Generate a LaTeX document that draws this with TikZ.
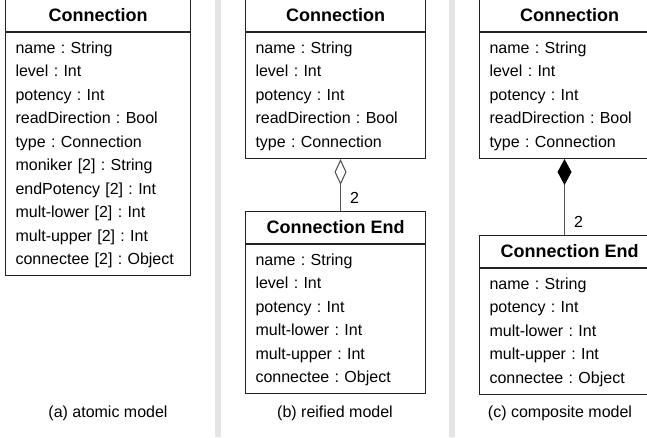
\documentclass[tikz,border=0pt]{standalone}
\usepackage{fontspec}
\setmainfont{Liberation Sans}
\usetikzlibrary{arrows.meta, positioning}
\definecolor{framecolor}{RGB}{34,34,34}
\definecolor{barcolor}{RGB}{228,228,228}
\definecolor{linkcolor}{RGB}{85,85,85}
\frenchspacing

\begin{document}
\begin{tikzpicture}[
    x=0.75pt, y=-0.75pt,
    head/.style={draw=framecolor, line width=0.8pt, anchor=north west, minimum width=#1, minimum height=24pt, inner sep=0pt, font=\fontsize{13.5pt}{16pt}\selectfont\bfseries},
    body/.style={draw=framecolor, line width=0.8pt, align=left, text width=#1, inner xsep=7.5pt, inner ysep=3.2pt, font=\fontsize{12pt}{17.6pt}\selectfont, execute at begin node=\strut, execute at end node=\strut},
    aggr/.style={draw=linkcolor, line width=0.8pt, -{Diamond[open, length=19.5pt, width=9pt]}},
    comp/.style={draw=linkcolor, line width=0.8pt, -{Diamond[length=19.5pt, width=10.5pt, color=black]}},
    mult/.style={anchor=base west, inner sep=0pt, xshift=6.75pt, yshift=6pt, font=\fontsize{12pt}{14pt}\selectfont},
    caption/.style={font=\fontsize{12pt}{14pt}\selectfont}
]
    \useasboundingbox (0,0) rectangle (647,437);

    % Panel separators
    \fill[barcolor] (215,0) rectangle (221,437);
    \fill[barcolor] (449,0) rectangle (455,437);

    % (a) one class holds everything
    \node[head=138.75pt] (connA-head) at (5,-1) {Connection};
    \node[body=123.75pt, below=0pt of connA-head] (connA-body) {name : String\\ level : Int\\ potency : Int\\ readDirection : Bool\\ type : Connection\\ moniker [2] : String\\ endPotency [2] : Int\\ mult-lower [2] : Int\\ mult-upper [2] : Int\\ connectee [2] : Object};

    % (b) ends as separate classes
    \node[head=135pt] (connB-head) at (245,-1) {Connection};
    \node[body=120pt, below=0pt of connB-head] (connB-body) {name : String\\ level : Int\\ potency : Int\\ readDirection : Bool\\ type : Connection};
    \node[head=135pt] (endB-head) at (245,211) {Connection End};
    \node[body=120pt, below=0pt of endB-head] (endB-body) {name : String\\ level : Int\\ potency : Int\\ mult-lower : Int\\ mult-upper : Int\\ connectee : Object};

    % (c) ends owned by the connection
    \node[head=135pt] (connC-head) at (479,-1) {Connection};
    \node[body=120pt, below=0pt of connC-head] (connC-body) {name : String\\ level : Int\\ potency : Int\\ readDirection : Bool\\ type : Connection};
    \node[head=135pt] (endC-head) at (479,235) {Connection End};
    \node[body=120pt, below=0pt of endC-head] (endC-body) {name : String\\ potency : Int\\ mult-lower : Int\\ mult-upper : Int\\ connectee : Object};

    % Associations
    \draw[aggr] ([xshift=3.75pt]endB-head.north) -- node[pos=0, mult] {2} ([xshift=3.75pt]connB-body.south);
    \draw[comp] ([xshift=-3.75pt]endC-head.north) -- node[pos=0, mult] {2} ([xshift=-3.75pt]connC-body.south);

    % Captions
    \node[caption] (capA) at (108,413) {(a) atomic model};
    \node[caption] (capB) at (335,413) {(b) reified model};
    \node[caption] (capC) at (560,413) {(c) composite model};
\end{tikzpicture}
\end{document}
